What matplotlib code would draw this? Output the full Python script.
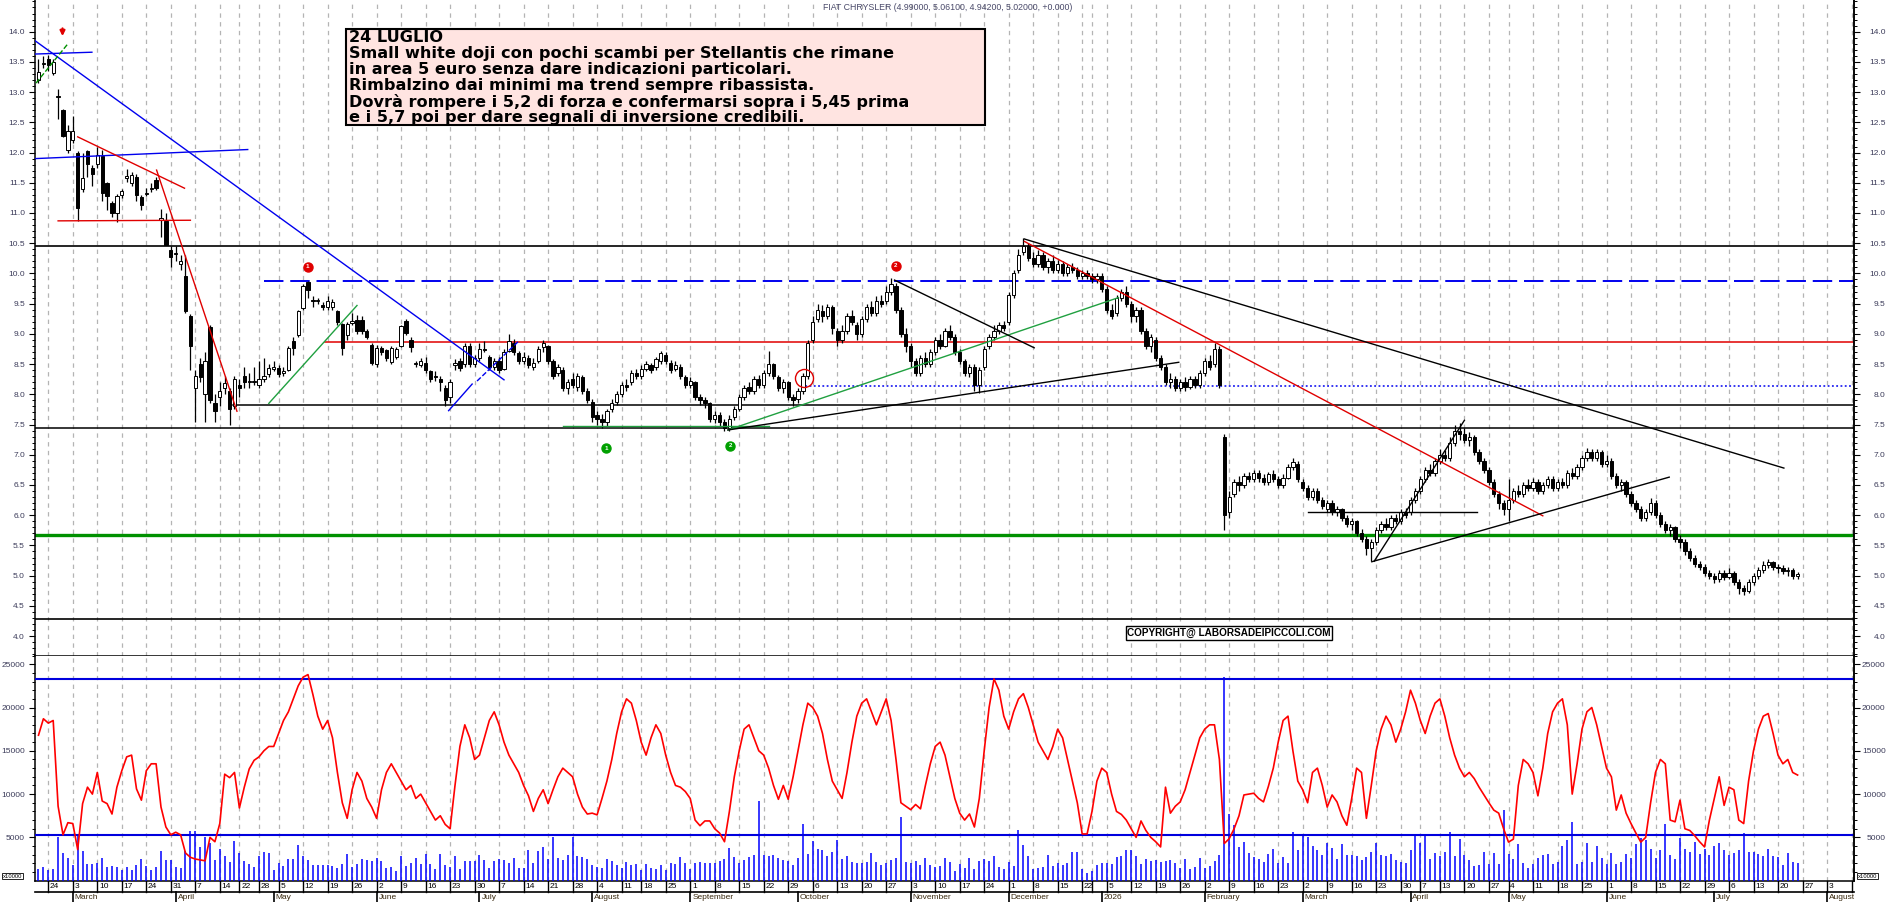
import numpy as np
import pandas as pd
import matplotlib
matplotlib.use("Agg")
import matplotlib.pyplot as plt
from matplotlib.ticker import FixedLocator, FormatStrFormatter
from matplotlib.patches import Rectangle

plt.rcParams['font.family'] = ['Liberation Sans', 'DejaVu Sans']

# -- DATI --
festivi = ['2025-04-18', '2025-04-21', '2025-05-01', '2025-08-15', '2025-12-24',
           '2025-12-25', '2025-12-26', '2025-12-31', '2026-01-01', '2026-04-03',
           '2026-04-06', '2026-05-01']

apertura = [
    13.20, 13.46, 13.55, 13.32, 12.92, 12.70, 12.05,  # feb 25
    12.20, 12.00, 11.40, 12.02, 11.75, 11.81, 11.94, 11.50, 11.17, 11.00, 11.30, 11.58, 11.50, 11.60, 11.27, 11.32, 11.39, 11.55, 10.88, 10.87, 10.38,  # mar
    10.32, 10.16, 9.95, 9.30, 8.10, 8.50, 8.00, 9.12, 7.85, 7.95, 8.10, 8.05, 7.80, 8.15, 8.30, 8.20, 8.20, 8.15, 8.25, 8.33,  # apr
    8.42, 8.43, 8.36, 8.40, 8.88, 8.98, 9.42, 9.86, 9.56, 9.55, 9.48, 9.44, 9.45, 9.38, 9.16, 8.98, 9.18, 9.23, 9.23, 9.04, 8.81,  # mag
    8.50, 8.77, 8.73, 8.54, 8.62, 8.80, 9.22, 8.90, 8.50, 8.48, 8.52, 8.38, 8.30, 8.25, 8.10, 7.95, 8.48, 8.55, 8.50, 8.80, 8.50,  # giu
    8.60, 8.75, 8.62, 8.45, 8.55, 8.42, 8.72, 8.85, 8.68, 8.55, 8.60, 8.45, 8.55, 8.78, 8.80, 8.55, 8.35, 8.40, 8.10, 8.25, 8.12, 8.28, 8.05,  # lug
    7.88, 7.65, 7.60, 7.55, 7.75, 7.88, 8.00, 8.15, 8.20, 8.35, 8.30, 8.42, 8.48, 8.45, 8.55, 8.65, 8.52, 8.42, 8.45, 8.28,  # ago
    8.15, 8.20, 7.95, 7.90, 7.85, 7.60, 7.65, 7.55, 7.45, 7.62, 7.75, 7.95, 8.12, 8.05, 8.25, 8.15, 8.35, 8.50, 8.28, 8.10, 8.20, 7.95,  # set
    7.92, 8.05, 8.30, 8.90, 9.25, 9.38, 9.30, 9.45, 9.05, 8.90, 9.05, 9.30, 9.15, 9.00, 9.25, 9.45, 9.35, 9.55, 9.55, 9.70, 9.80, 9.40, 9.00,  # ott
    8.80, 8.55, 8.35, 8.60, 8.50, 8.70, 8.90, 8.80, 9.05, 8.95, 8.70, 8.55, 8.35, 8.45, 8.15, 8.45, 8.80, 8.95, 9.05, 9.15,  # nov
    9.20, 9.65, 10.05, 10.35, 10.45, 10.25, 10.15, 10.30, 10.10, 10.20, 10.05, 10.15, 10.00, 10.10, 10.05, 9.95, 10.00, 9.95, 9.90,  # dic
    9.95, 9.75, 9.40, 9.35, 9.60, 9.70, 9.50, 9.30, 9.40, 9.05, 8.80, 8.90, 8.60, 8.45, 8.20, 8.25, 8.10, 8.20, 8.12, 8.25, 8.15,  # gen 26
    8.35, 8.55, 8.50, 8.75, 7.30, 6.05, 6.35, 6.55, 6.50, 6.65, 6.60, 6.70, 6.62, 6.55, 6.68, 6.60, 6.50, 6.62, 6.80, 6.85,  # feb
    6.55, 6.45, 6.30, 6.40, 6.25, 6.10, 6.20, 6.05, 6.10, 5.95, 5.85, 5.90, 5.70, 5.60, 5.45, 5.55, 5.75, 5.85, 5.80, 5.95, 5.90, 6.05,  # mar
    6.05, 6.25, 6.40, 6.60, 6.75, 6.70, 6.90, 7.00, 6.95, 7.20, 7.40, 7.35, 7.25, 7.30, 7.05, 6.90, 6.75, 6.55, 6.35, 6.20,  # apr
    6.10, 6.25, 6.40, 6.35, 6.50, 6.45, 6.55, 6.40, 6.50, 6.60, 6.45, 6.55, 6.50, 6.70, 6.65, 6.80, 6.95, 7.05, 6.95, 7.05,  # mag
    6.85, 6.90, 6.65, 6.50, 6.55, 6.35, 6.20, 6.10, 5.95, 6.05, 6.20, 6.00, 5.85, 5.75, 5.80, 5.60, 5.55, 5.40, 5.30, 5.20, 5.15, 5.05,  # giu
    5.00, 4.95, 5.05, 4.98, 5.05, 4.90, 4.80, 4.75, 4.90, 5.00, 5.10, 5.18, 5.22, 5.15, 5.12, 5.08, 5.10, 4.99,  # lug
]
massimo = [
    13.55, 13.60, 13.62, 13.55, 13.05, 12.72, 12.45,
    12.60, 12.02, 12.00, 12.05, 11.80, 12.10, 12.05, 11.52, 11.20, 11.32, 11.40, 11.72, 11.68, 11.64, 11.30, 11.42, 11.50, 11.60, 11.07, 11.00, 10.45,
    10.45, 10.30, 10.30, 9.33, 8.40, 8.60, 8.70, 9.15, 8.00, 8.20, 8.30, 8.10, 8.30, 8.25, 8.45, 8.35, 8.45, 8.55, 8.60, 8.50,
    8.55, 8.48, 8.45, 8.80, 8.95, 9.40, 9.82, 9.88, 9.62, 9.60, 9.52, 9.62, 9.58, 9.40, 9.18, 9.20, 9.35, 9.32, 9.30, 9.08, 8.85,
    8.82, 8.80, 8.75, 8.80, 8.78, 9.15, 9.25, 8.95, 8.55, 8.60, 8.62, 8.40, 8.38, 8.30, 8.15, 8.25, 8.58, 8.60, 8.85, 8.85, 8.65,
    8.85, 8.88, 8.65, 8.60, 8.62, 8.75, 9.00, 8.92, 8.72, 8.70, 8.65, 8.60, 8.80, 8.90, 8.82, 8.58, 8.50, 8.45, 8.25, 8.35, 8.35, 8.32, 8.10,
    7.92, 7.72, 7.68, 7.75, 7.92, 8.05, 8.20, 8.25, 8.40, 8.42, 8.48, 8.55, 8.52, 8.62, 8.72, 8.70, 8.56, 8.55, 8.50, 8.32,
    8.28, 8.22, 8.00, 7.95, 7.88, 7.72, 7.70, 7.60, 7.65, 7.80, 8.00, 8.15, 8.20, 8.30, 8.32, 8.40, 8.72, 8.52, 8.32, 8.25, 8.22, 8.00,
    8.10, 8.35, 8.90, 9.30, 9.50, 9.48, 9.50, 9.48, 9.10, 9.15, 9.35, 9.40, 9.20, 9.30, 9.50, 9.55, 9.62, 9.65, 9.80, 9.92, 9.85, 9.45, 9.10,
    8.85, 8.60, 8.65, 8.70, 8.75, 8.95, 9.00, 9.10, 9.15, 9.00, 8.75, 8.58, 8.50, 8.50, 8.45, 8.80, 9.00, 9.15, 9.20, 9.22,
    9.70, 10.05, 10.40, 10.58, 10.50, 10.35, 10.38, 10.35, 10.25, 10.30, 10.22, 10.20, 10.15, 10.18, 10.10, 10.05, 10.05, 10.00, 10.00,
    10.00, 9.80, 9.50, 9.65, 9.75, 9.80, 9.55, 9.45, 9.45, 9.10, 9.00, 8.95, 8.65, 8.50, 8.35, 8.30, 8.25, 8.28, 8.30, 8.30, 8.40,
    8.60, 8.65, 8.85, 8.80, 7.35, 6.40, 6.60, 6.65, 6.70, 6.72, 6.75, 6.75, 6.68, 6.72, 6.75, 6.65, 6.68, 6.85, 6.95, 6.90,
    6.60, 6.50, 6.45, 6.45, 6.30, 6.25, 6.25, 6.15, 6.12, 6.00, 5.95, 5.92, 5.78, 5.65, 5.60, 5.80, 5.90, 5.95, 6.00, 6.02, 6.10, 6.12,
    6.30, 6.45, 6.65, 6.80, 6.85, 6.95, 7.10, 7.08, 7.30, 7.50, 7.52, 7.45, 7.38, 7.32, 7.10, 6.95, 6.80, 6.60, 6.40, 6.25,
    6.60, 6.45, 6.50, 6.55, 6.60, 6.62, 6.60, 6.55, 6.65, 6.65, 6.60, 6.62, 6.75, 6.78, 6.85, 7.00, 7.12, 7.10, 7.10, 7.08,
    7.00, 6.95, 6.70, 6.60, 6.58, 6.40, 6.25, 6.15, 6.10, 6.28, 6.25, 6.05, 5.90, 5.85, 5.82, 5.68, 5.60, 5.45, 5.35, 5.25, 5.20, 5.10,
    5.05, 5.10, 5.10, 5.12, 5.08, 4.95, 4.85, 4.95, 5.05, 5.15, 5.25, 5.28, 5.25, 5.20, 5.18, 5.15, 5.12, 5.061,
]
minimo = [
    13.15, 13.40, 13.35, 13.28, 12.55, 12.25, 12.00,
    12.15, 10.86, 11.35, 11.60, 11.45, 11.75, 11.20, 11.05, 10.93, 10.85, 11.25, 11.52, 11.45, 11.20, 11.05, 11.28, 11.35, 11.38, 10.60, 10.47, 10.10,
    10.20, 10.05, 9.35, 8.40, 7.55, 8.20, 7.55, 7.85, 7.55, 7.80, 8.00, 7.50, 7.75, 7.95, 8.10, 8.10, 8.15, 8.10, 8.20, 8.28,
    8.38, 8.28, 8.30, 8.38, 8.65, 8.95, 9.40, 9.60, 9.45, 9.50, 9.40, 9.40, 9.40, 9.15, 8.65, 8.90, 9.15, 9.00, 9.00, 8.92, 8.48,
    8.45, 8.65, 8.55, 8.50, 8.58, 8.78, 8.98, 8.70, 8.45, 8.45, 8.36, 8.20, 8.22, 8.05, 7.80, 7.85, 8.40, 8.38, 8.45, 8.45, 8.45,
    8.55, 8.70, 8.40, 8.40, 8.35, 8.40, 8.70, 8.65, 8.50, 8.50, 8.44, 8.40, 8.52, 8.70, 8.50, 8.25, 8.30, 8.05, 8.00, 8.10, 8.05, 8.00, 7.85,
    7.55, 7.50, 7.45, 7.48, 7.70, 7.82, 7.95, 8.05, 8.15, 8.25, 8.25, 8.38, 8.35, 8.40, 8.50, 8.50, 8.35, 8.38, 8.25, 8.10,
    8.10, 7.90, 7.82, 7.78, 7.55, 7.52, 7.48, 7.40, 7.40, 7.58, 7.72, 7.90, 8.00, 8.00, 8.10, 8.10, 8.30, 8.25, 8.05, 8.02, 7.90, 7.80,
    7.85, 8.00, 8.25, 8.85, 9.20, 9.20, 9.25, 9.00, 8.80, 8.85, 9.00, 9.15, 8.90, 8.95, 9.20, 9.30, 9.30, 9.45, 9.50, 9.65, 9.35, 8.95, 8.70,
    8.45, 8.30, 8.30, 8.45, 8.45, 8.65, 8.75, 8.78, 8.90, 8.65, 8.50, 8.30, 8.28, 8.05, 8.02, 8.40, 8.75, 8.90, 9.00, 9.05,
    9.15, 9.60, 10.00, 10.30, 10.20, 10.10, 10.10, 10.05, 10.00, 10.00, 10.00, 9.95, 9.95, 10.00, 9.90, 9.90, 9.90, 9.85, 9.85,
    9.70, 9.35, 9.25, 9.30, 9.55, 9.45, 9.20, 9.20, 9.00, 8.75, 8.70, 8.55, 8.40, 8.15, 8.10, 8.05, 8.05, 8.05, 8.08, 8.10, 8.10,
    8.30, 8.40, 8.45, 8.10, 5.75, 5.95, 6.30, 6.40, 6.45, 6.55, 6.55, 6.55, 6.50, 6.50, 6.55, 6.45, 6.45, 6.60, 6.75, 6.55,
    6.40, 6.25, 6.25, 6.20, 6.10, 6.05, 6.00, 5.98, 5.90, 5.80, 5.75, 5.65, 5.55, 5.35, 5.25, 5.50, 5.70, 5.75, 5.75, 5.85, 5.85, 5.95,
    6.00, 6.20, 6.35, 6.55, 6.65, 6.65, 6.85, 6.90, 6.90, 7.15, 7.25, 7.20, 7.15, 7.00, 6.85, 6.70, 6.50, 6.30, 6.10, 6.00,
    5.90, 6.20, 6.30, 6.30, 6.40, 6.40, 6.35, 6.35, 6.45, 6.40, 6.40, 6.45, 6.45, 6.60, 6.60, 6.75, 6.90, 6.90, 6.90, 6.80,
    6.80, 6.60, 6.45, 6.40, 6.30, 6.15, 6.05, 5.90, 5.90, 6.00, 5.95, 5.80, 5.70, 5.65, 5.55, 5.45, 5.35, 5.25, 5.15, 5.10, 5.00, 4.95,
    4.88, 4.90, 4.92, 4.95, 4.85, 4.70, 4.68, 4.72, 4.85, 4.95, 5.05, 5.12, 5.10, 5.05, 5.02, 5.00, 4.95, 4.942,
]
chiusura = [
    13.33, 13.48, 13.45, 13.50, 12.94, 12.28, 12.35,
    12.35, 11.08, 11.58, 11.81, 11.65, 11.96, 11.33, 11.28, 11.00, 11.28, 11.36, 11.62, 11.63, 11.30, 11.13, 11.33, 11.41, 11.42, 10.92, 10.47, 10.28,
    10.34, 10.20, 9.38, 8.80, 8.30, 8.28, 8.55, 7.90, 7.72, 8.05, 8.18, 7.75, 8.25, 8.10, 8.20, 8.22, 8.22, 8.25, 8.30, 8.43,
    8.46, 8.33, 8.38, 8.77, 8.77, 9.38, 9.79, 9.72, 9.54, 9.56, 9.44, 9.55, 9.53, 9.20, 8.77, 9.16, 9.22, 9.05, 9.05, 8.95, 8.52,
    8.77, 8.70, 8.60, 8.77, 8.75, 9.13, 9.01, 8.78, 8.50, 8.55, 8.40, 8.25, 8.28, 8.20, 7.90, 8.20, 8.52, 8.43, 8.80, 8.50, 8.60,
    8.75, 8.74, 8.45, 8.55, 8.40, 8.70, 8.88, 8.70, 8.55, 8.62, 8.48, 8.52, 8.75, 8.85, 8.55, 8.30, 8.45, 8.10, 8.20, 8.15, 8.30, 8.05, 7.90,
    7.62, 7.60, 7.55, 7.72, 7.85, 8.00, 8.15, 8.12, 8.35, 8.30, 8.42, 8.50, 8.40, 8.58, 8.68, 8.55, 8.40, 8.48, 8.30, 8.15,
    8.22, 7.95, 7.90, 7.85, 7.60, 7.65, 7.55, 7.45, 7.60, 7.75, 7.95, 8.10, 8.05, 8.25, 8.15, 8.35, 8.50, 8.30, 8.10, 8.20, 7.95, 7.90,
    8.05, 8.30, 8.85, 9.20, 9.40, 9.30, 9.45, 9.10, 8.90, 9.05, 9.30, 9.20, 9.00, 9.25, 9.45, 9.35, 9.55, 9.50, 9.70, 9.82, 9.40, 9.00, 8.80,
    8.55, 8.35, 8.60, 8.50, 8.70, 8.90, 8.80, 9.05, 8.95, 8.70, 8.55, 8.35, 8.45, 8.15, 8.40, 8.75, 8.95, 9.05, 9.15, 9.10,
    9.65, 10.00, 10.30, 10.45, 10.25, 10.15, 10.30, 10.10, 10.20, 10.05, 10.15, 10.00, 10.10, 10.05, 9.95, 10.00, 9.95, 9.90, 9.95,
    9.75, 9.40, 9.30, 9.60, 9.70, 9.50, 9.30, 9.40, 9.05, 8.80, 8.95, 8.60, 8.45, 8.20, 8.25, 8.10, 8.20, 8.12, 8.25, 8.15, 8.35,
    8.55, 8.45, 8.75, 8.15, 6.00, 6.30, 6.55, 6.50, 6.65, 6.60, 6.70, 6.62, 6.55, 6.68, 6.60, 6.50, 6.62, 6.80, 6.88, 6.60,
    6.45, 6.30, 6.40, 6.25, 6.15, 6.20, 6.05, 6.10, 5.95, 5.85, 5.90, 5.70, 5.60, 5.45, 5.55, 5.75, 5.85, 5.80, 5.95, 5.90, 6.05, 6.00,
    6.25, 6.40, 6.60, 6.75, 6.70, 6.90, 7.00, 6.95, 7.20, 7.40, 7.35, 7.25, 7.30, 7.05, 6.90, 6.75, 6.55, 6.35, 6.20, 6.10,
    6.25, 6.40, 6.35, 6.50, 6.45, 6.55, 6.40, 6.50, 6.60, 6.45, 6.55, 6.50, 6.70, 6.65, 6.80, 6.95, 7.05, 6.95, 7.05, 6.85,
    6.90, 6.65, 6.50, 6.55, 6.35, 6.20, 6.10, 5.95, 6.05, 6.20, 6.00, 5.85, 5.75, 5.80, 5.60, 5.55, 5.40, 5.30, 5.20, 5.15, 5.05, 5.00,
    4.95, 5.05, 4.98, 5.05, 4.90, 4.80, 4.75, 4.90, 5.00, 5.10, 5.18, 5.22, 5.15, 5.12, 5.08, 5.10, 4.99, 5.02,
]

volumi = [
    1350, 1580, 1270, 1350, 5010, 3200, 2620,
    1810, 5200, 3430, 1930, 1930, 2040, 2620, 1580, 1660, 1580, 1270, 1580, 1270, 1810, 2500, 1700, 1270, 1580, 3430, 2390, 2390,
    1580, 1470, 3430, 5770, 5770, 3890, 5000, 4300, 2430, 3700, 2850, 2160, 4570, 3230, 2270, 1970, 1620, 2800, 3300, 3200,
    1200, 2000, 1700, 2500, 2500, 4100, 2900, 2400, 1800, 1800, 1800, 1800, 1700, 1500, 1900, 3100, 1600, 1900, 2500, 2400, 2300,
    2600, 2300, 1500, 1600, 1100, 2900, 1700, 2000, 2600, 1900, 3100, 1900, 1300, 3100, 1800, 1600, 2900, 1400, 2300, 2300, 2300,
    3000, 2400, 1500, 2300, 2500, 2400, 2000, 2600, 1500, 1500, 3500, 2100, 3400, 3900, 2500, 5000, 2600, 2400, 3000, 5000, 2900, 2700, 2500,
    1800, 1600, 1500, 2500, 2300, 1800, 1500, 2200, 1800, 1900, 1200, 1900, 1500, 1300, 1800, 1200, 2100, 1900, 2700, 2000,
    1300, 2100, 2200, 2100, 2000, 2000, 2300, 2500, 3800, 2700, 2100, 2400, 2700, 3000, 9200, 3000, 2800, 3000, 2600, 2400, 2300, 1800,
    2600, 6600, 3100, 4600, 3700, 3500, 2800, 3300, 4700, 2500, 2900, 2200, 2000, 2100, 2200, 3200, 2200, 1800, 2000, 2400, 2600, 7400, 2200,
    2000, 2300, 1800, 2600, 1800, 1600, 1700, 2600, 2200, 1100, 1900, 1500, 2600, 1300, 2300, 2500, 2300, 2800, 1600, 1300,
    2200, 1700, 5800, 4100, 2900, 1400, 1500, 1600, 3000, 1700, 2000, 1800, 2100, 3300, 3300, 1400, 900, 1100, 1800,
    2000, 2100, 1900, 2700, 2800, 3500, 3600, 2900, 1900, 2500, 2300, 2400, 2200, 2300, 2400, 2000, 1500, 2500, 1300, 1600, 2600,
    1500, 1700, 2300, 3000, 23500, 7700, 6400, 3900, 4500, 3200, 2700, 2500, 2200, 3100, 3700, 2000, 2700, 2000, 5600, 3600,
    5300, 5000, 4000, 3500, 3000, 4300, 3800, 2500, 4200, 3000, 3000, 2800, 2400, 2700, 3300, 4400, 3000, 2800, 3100, 2400, 2200, 2000,
    3500, 5300, 4400, 5300, 2500, 3200, 2900, 3300, 5600, 2900, 4800, 3000, 2400, 1700, 1800, 3300, 1900, 3200, 1900, 8200,
    3100, 2500, 4200, 2000, 1500, 1900, 2600, 3000, 3100, 1900, 2200, 4000, 4700, 6800, 1900, 2200, 4300, 2200, 4000, 2600,
    1900, 3200, 1900, 2200, 3100, 2600, 4200, 4900, 4700, 3700, 2600, 3600, 6500, 3000, 2500, 4900, 3700, 3300, 4500, 3100, 3700, 3000,
    4000, 4300, 3500, 3000, 3200, 3600, 5500, 3300, 3300, 3100, 2900, 3700, 2800, 2700, 1800, 3200, 2200, 2000,
]

linea_rossa = [
    16800, 18700, 18200, 18500, 8600, 5300, 6700,
    6600, 3600, 8900, 10800, 10000, 12500, 9200, 8900, 7700, 10800, 12700, 14300, 14500, 10600, 9300, 12700, 13500, 13500, 8500, 6200, 5300,
    5600, 5300, 3200, 2700, 2500, 2400, 2300, 5000, 4500, 6600, 12300, 11900, 12500, 8400, 10800, 12900, 13900, 14300, 15000, 15500,
    15500, 17000, 18500, 19500, 21000, 22500, 23500, 23800, 21500, 19000, 17500, 18500, 16500, 12500, 9000, 7200, 10500, 12500, 11500, 9500, 8500,
    7200, 10500, 12500, 13500, 12500, 11500, 10500, 11000, 9500, 10000, 9000, 8000, 7000, 7500, 6500, 6000, 11000, 15500, 18000, 16500, 14000,
    14500, 16500, 18500, 19500, 18000, 16000, 14500, 13500, 12500, 11000, 9800, 8000, 9500, 10500, 8900, 10500, 12000, 13000, 12500, 12000, 10000, 8500, 7700,
    7800, 7600, 9500, 11500, 14000, 17000, 19500, 21000, 20500, 18500, 16000, 14500, 16500, 18000, 17000, 14500, 12500, 11000, 10800, 10300,
    9500, 7000, 6350, 6900, 6900, 6000, 5500, 4500, 8000, 12000, 15000, 17500, 18000, 16500, 15000, 14500, 13000, 11000, 9400, 11000, 9400, 12000,
    15000, 18000, 20500, 20000, 19000, 17000, 14000, 11500, 10500, 9500, 12500, 16000, 19000, 20500, 21000, 19500, 18000, 19500, 21000, 18500, 14000, 9000, 8600,
    8200, 8800, 8300, 11000, 13500, 15500, 16000, 14500, 12000, 9500, 7800, 7000, 7700, 6200, 9500, 15000, 20000, 23300, 22000, 19000,
    17500, 19500, 21000, 21600, 20000, 18000, 16000, 15000, 14000, 15500, 17500, 16500, 14000, 11500, 9000, 5400, 5400, 8000, 11500,
    13000, 12500, 10000, 8000, 7650, 7000, 6000, 5000, 6900, 5800, 5000, 4500, 3900, 10800, 7800, 8600, 9100, 10500, 12500, 14500, 16500,
    17500, 18000, 18000, 14000, 4300, 4850, 6000, 7500, 9900, 10000, 10100, 9500, 9100, 10900, 13000, 16000, 18500, 19000, 15000, 11500,
    10500, 9000, 12500, 13000, 11000, 8500, 9900, 9100, 7500, 6400, 9500, 13000, 12500, 7200, 11000, 15000, 17500, 19000, 18000, 16000, 17500, 19500,
    22000, 20500, 18500, 17000, 19000, 20500, 21000, 19000, 16500, 14500, 13000, 12000, 12500, 11800, 10800, 9900, 9000, 8150, 7800, 6000,
    4460, 4800, 11000, 14000, 13500, 12500, 9800, 13000, 17000, 19500, 20500, 21000, 18000, 10000, 13500, 17500, 19500, 20000, 18000, 15500,
    13000, 12000, 8150, 9900, 7800, 6600, 5500, 4460, 5000, 9000, 12500, 14000, 13500, 7000, 6800, 9300, 6000, 5800, 5200, 4500, 3900, 7000,
    9500, 12000, 8700, 10800, 10500, 7000, 6600, 11500, 15000, 17500, 19000, 19300, 17000, 14500, 13500, 14000, 12500, 12200,
]

livelli_prezzo = [4.0, 4.5, 5.0, 5.5, 6.0, 6.5, 7.0, 7.5, 8.0, 8.5, 9.0, 9.5, 10.0, 10.5,
                  11.0, 11.5, 12.0, 12.5, 13.0, 13.5, 14.0]
livelli_volume = [5000, 10000, 15000, 20000, 25000]

mesi = ['January', 'February', 'March', 'April', 'May', 'June', 'July', 'August',
        'September', 'October', 'November', 'December']

testo_nota = ["24 LUGLIO",
              "Small white doji con pochi scambi per Stellantis che rimane",
              "in area 5 euro senza dare indicazioni particolari.",
              "Rimbalzino dai minimi ma trend sempre ribassista.",
              "Dovrà rompere i 5,2 di forza e confermarsi sopra i 5,45 prima",
              "e i 5,7 poi per dare segnali di inversione credibili."]

n = len(chiusura)
for nome, lista in [('apertura', apertura), ('massimo', massimo), ('minimo', minimo),
                    ('volumi', volumi), ('linea_rossa', linea_rossa)]:
    if len(lista) != n:
        print(nome, len(lista), n)

# -- CALENDARIO --
date = pd.date_range('2025-02-20', '2026-08-12',
                     freq=pd.offsets.CustomBusinessDay(holidays=festivi))
XMIN, XMAX = -0.714, 370.51
inizio_sett = date - pd.to_timedelta(date.weekday, unit='D')
sett = [i for i in range(1, len(date)) if inizio_sett[i] != inizio_sett[i - 1] and i <= XMAX]
cambio_mese = [i for i in range(1, len(date)) if date[i].month != date[i - 1].month and i <= XMAX]

# -- FIGURA --
W, H = 1890, 902
fig = plt.figure(figsize=(W / 100, H / 100), dpi=100)


def fx(px):
    return px / W


def fy(py):
    return 1 - py / H


L, R = 35, 1854
ax = fig.add_axes([fx(L), fy(655.5), (R - L) / W, 655.5 / H])
axv = fig.add_axes([fx(L), fy(880.7), (R - L) / W, (880.7 - 655.5) / H])
axl = fig.add_axes([fx(L), 0, (R - L) / W, (902 - 880.7) / H])

COL_LAB = '#3c3c5a'
griglia = dict(color='#b4b4b4', lw=0.9, ls=(0, (3.5, 3.5)), zorder=0)

for a, ymin, ymax, livelli, minori in [
        (ax, 3.679, 14.524, livelli_prezzo, np.arange(3.7, 14.55, 0.1)),
        (axv, 0, 26005, livelli_volume, np.arange(1000, 26001, 1000))]:
    a.set_xlim(XMIN, XMAX)
    a.set_ylim(ymin, ymax)
    a.set_xticks([])
    for s in a.spines.values():
        s.set_linewidth(1.1)
    a.spines['top'].set_visible(False)
    for t in sett:
        a.axvline(t, **griglia)
    fmt = FormatStrFormatter('%.1f') if a is ax else FormatStrFormatter('%d')
    a.yaxis.set_major_locator(FixedLocator(livelli))
    a.yaxis.set_minor_locator(FixedLocator(minori))
    a.yaxis.set_major_formatter(fmt)
    a.tick_params(axis='y', which='major', direction='out', length=4.5, width=0.8,
                  labelsize=6, labelcolor=COL_LAB, pad=2.7)
    a.tick_params(axis='y', which='minor', direction='out', length=2.5, width=0.7)
    # etichette a destra allineate a destra verso il bordo
    ar = a.twinx()
    ar.set_ylim(ymin, ymax)
    ar.yaxis.set_major_locator(FixedLocator(livelli))
    ar.yaxis.set_minor_locator(FixedLocator(minori))
    ar.yaxis.set_major_formatter(fmt)
    ar.tick_params(axis='y', which='major', direction='out', length=4.5, width=0.8,
                   labelsize=6, labelcolor=COL_LAB, pad=18.3)
    ar.tick_params(axis='y', which='minor', direction='out', length=2.5, width=0.7)
    plt.setp(ar.get_yticklabels(), ha='right')
    for k in ['top', 'left', 'bottom']:
        ar.spines[k].set_visible(False)
    ar.spines['right'].set_linewidth(1.1)

# -- CANDELE --
x = np.arange(n)
o = np.array(apertura)
c = np.array(chiusura)
ax.vlines(x, minimo, massimo, color='black', lw=0.9, zorder=3)
corpo = np.maximum(np.abs(c - o), 0.012)
base = np.minimum(o, c)
colori = ['white' if cc >= oo else 'black' for oo, cc in zip(o, c)]
ax.bar(x, corpo, bottom=base, width=0.66, color=colori, edgecolor='black', lw=0.7, zorder=4)

# livelli orizzontali
ax.plot([XMIN, XMAX], [10.45, 10.45], color='black', lw=1.2, zorder=2)
ax.plot([46, XMAX], [9.88, 9.88], color='#0000ee', lw=1.4, dashes=(10, 3.5), zorder=2)
ax.plot([58.5, XMAX], [8.87, 8.87], color='#e00000', lw=1.1, zorder=2)
ax.plot([155.7, XMAX], [8.13, 8.13], color='#0000ee', lw=1.1, dashes=(1.2, 1.6), zorder=2)
ax.plot([39.6, XMAX], [7.83, 7.83], color='black', lw=1.1, zorder=2)
ax.plot([XMIN, XMAX], [7.45, 7.45], color='black', lw=1.1, zorder=2)
ax.plot([XMIN, XMAX], [5.68, 5.68], color='#009000', lw=2.4, zorder=2)
ax.plot([XMIN, XMAX], [4.28, 4.28], color='black', lw=1.2, zorder=2)

# trendline
trend = [
    ((-0.7, 13.85), (95, 8.24), '#0000ee', '-'),
    ((-0.7, 11.90), (42.7, 12.05), '#0000ee', '-'),
    ((-0.7, 13.63), (10.9, 13.66), '#0000ee', '-'),
    ((-0.5, 13.15), (6.0, 13.80), '#009000', '--'),
    ((8.0, 12.26), (29.8, 11.41), '#e00000', '-'),
    ((4.0, 10.87), (31.0, 10.88), '#e00000', '-'),
    ((24.1, 11.71), (40.5, 7.72), '#e00000', '-'),
    ((47, 7.85), (65, 9.47), '#20a040', '-'),
    ((83.7, 7.73), (88.5, 8.17), '#0000ee', '-'),
    ((89.5, 8.22), (98, 8.88), '#0000ee', '--'),
    ((107, 7.47), (149, 7.47), '#20a040', '-'),
    ((140.7, 7.41), (220.4, 9.60), '#20a040', '-'),
    ((140.7, 7.41), (232.7, 8.53), 'black', '-'),
    ((174.7, 9.89), (203.2, 8.77), 'black', '-'),
    ((201.2, 10.57), (356.2, 6.78), 'black', '-'),
    ((201.2, 10.53), (307, 5.99), '#e00000', '-'),
    ((272.6, 5.24), (291, 7.57), 'black', '-'),
    ((272.1, 5.23), (332.8, 6.63), 'black', '-'),
    ((259, 6.05), (293.5, 6.05), 'black', '-'),
]
for (x0, y0), (x1, y1), col, st in trend:
    ax.plot([x0, x1], [y0, y1], color=col, lw=1.0, ls=st, zorder=5)

# segnali
ax.annotate('', xy=(4.9, 13.88), xytext=(4.9, 14.1),
            arrowprops=dict(arrowstyle='-|>', color='#e00000', lw=1.6, mutation_scale=7))
for xs, ys, col, num in [(54.9, 10.11, '#e00000', '1'), (175, 10.13, '#e00000', '2'),
                         (115.9, 7.11, '#00a000', '1'), (141.2, 7.15, '#00a000', '2')]:
    ax.plot(xs, ys, 'o', color=col, ms=6.5, zorder=6)
    ax.text(xs, ys, num, color='white', fontsize=4.5, fontweight='bold',
            ha='center', va='center', zorder=7)
ax.plot(156.2, 8.27, 'o', mfc='none', mec='#e00000', ms=13, mew=1.0, zorder=6)

# -- VOLUMI --
axv.vlines(x, 0, volumi, color='#0000ff', lw=1.1, zorder=3)
axv.axhline(5240, color='#0000dd', lw=1.5, zorder=4)
axv.axhline(23250, color='#0000dd', lw=1.5, zorder=4)
axv.plot(x, linea_rossa, color='#ff0000', lw=1.2, zorder=5)

# -- ASSE DATE --
axl.set_xlim(XMIN, XMAX)
axl.set_ylim(902, 880.7)
axl.axis('off')
axl.plot([XMIN, XMAX], [891.7, 891.7], color='black', lw=1.2, clip_on=False)
for t in sett:
    axl.plot([t, t], [880.7, 891.7], color='black', lw=1.0)
    d = date[t]
    if t > 366 or (d.year == 2025 and d.month == 12 and d.day == 29):
        continue
    axl.text(t + 0.35, 886.4, str(d.day), fontsize=6, ha='left', va='center', color='black')
for m in cambio_mese:
    axl.plot([m, m], [891.7, 902], color='black', lw=1.2)
    d = date[m]
    nome = str(d.year) if d.month == 1 else mesi[d.month - 1]
    axl.text(m + 0.4, 897.3, nome, fontsize=6, ha='left', va='center', color='#3a2a10')

# -- TESTI --
fig.text(fx(823), fy(8), 'FIAT CHRYSLER (4.99000, 5.06100, 4.94200, 5.02000, +0.000)',
         fontsize=6.3, color='#4a4a6a', ha='left', va='center')

fig.add_artist(Rectangle((fx(346), fy(125)), (985 - 346) / W, (125 - 29) / H,
                         transform=fig.transFigure, facecolor='#ffe4e1',
                         edgecolor='black', lw=1.5, zorder=10))
for i, riga in enumerate(testo_nota):
    fig.text(fx(349), fy(37.5 + 16 * i), riga, fontsize=11.6, fontweight='bold',
             family=['DejaVu Sans'], ha='left', va='center', color='black', zorder=11)

fig.text(fx(1229), fy(633), 'COPYRIGHT@ LABORSADEIPICCOLI.COM', fontsize=7.2,
         fontweight='bold', ha='center', va='center', color='black',
         bbox=dict(facecolor='white', edgecolor='black', lw=1.0, pad=1.2))
for xx in (3, 1858):
    fig.text(fx(xx), fy(876), 'x10000', fontsize=4.2, ha='left', va='center',
             color='black', bbox=dict(facecolor='white', edgecolor='black', lw=0.6, pad=0.6))

fig.savefig('out.png', dpi=100)
